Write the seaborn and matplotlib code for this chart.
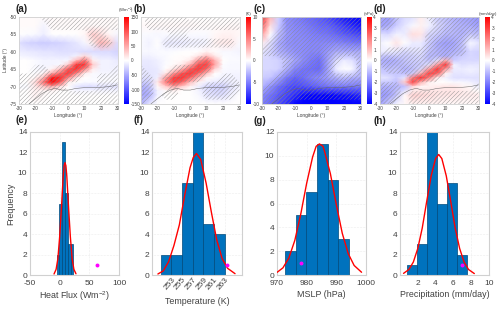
import pandas as pd
import seaborn as sns
import matplotlib
matplotlib.use('Agg')
import matplotlib.pyplot as plt

# ---- map values, columns from 30W to 30E, rows from 50S to 75S ----
lons = [-30, -25, -20, -15, -10, -5, 0, 5, 10, 15, 20, 25, 30]
lats = [-50, -52.5, -55, -57.5, -60, -62.5, -65, -67.5, -70, -72.5, -75]
# finer rows around the narrow warm band
fine_lats = [-50, -52.5, -55, -57.5, -60, -61.25, -62.5, -63.75, -65, -66.25, -67.5, -68.75, -70, -71.25, -72.5, -75]

heat_map = [
    [3, 3, 3, 3, 3, 3, 3, 3, 3, 3, 3, 3, 3],
    [3, 3, 3, -6, 3, 3, 3, 3, 3, 3, 3, 3, 3],
    [0, -2, -3, -10, 0, 0, 0, 0, 5, 30, 18, 5, -5],
    [-18, -25, -28, -30, -28, -25, -20, -15, -5, 10, 45, 30, -20],
    [-10, -12, -14, -16, -16, -18, -18, -18, -20, -20, -20, -20, -25],
    [-5, -8, -10, -12, -12, -14, -14, -8, 20, -10, -15, -15, -20],
    [0, 0, -3, -6, -6, -6, -5, 40, 80, 10, -8, -8, -12],
    [0, 0, -3, -6, -6, -4, 30, 120, 120, 30, -8, -8, -10],
    [0, 0, -3, -6, 5, 35, 100, 125, 70, 10, -8, -8, -8],
    [0, 0, -2, 5, 50, 90, 120, 70, 10, -3, -5, -5, -5],
    [0, 0, 5, 40, 140, 130, 70, 10, 0, -3, -3, -3, -3],
    [0, 0, 20, 85, 150, 100, 10, 0, -3, -3, -3, -3, -3],
    [-3, -3, 15, 35, 50, 20, 0, -15, -20, -20, -16, -16, -16],
    [0, 0, 8, 5, 5, 0, 0, -5, -5, -5, -5, -5, -5],
    [0, 0, 8, 3, 0, 0, 0, 0, 0, 0, 0, 0, 0],
    [0, 0, 0, 0, 0, 0, 0, 0, 0, 0, 0, 0, 0],
]
temp_map = [
    [0, 0, 0, 0, 0, 0, 0, 0, 0, 0, 0, 0, 0],
    [.3, .3, .3, .3, .3, .3, .3, .2, .2, .2, .2, .3, .3],
    [-.2, -.2, -.3, -.2, -.2, -.2, -.2, -.2, -.2, .3, .5, .5, .3],
    [-.2, -.5, 0, -.8, -.8, -.8, -.6, -.6, -.4, .5, .8, .8, -.2],
    [-.3, -.3, -.2, -.2, -.1, 0, 0, 0, .5, .1, -.3, -.3, -.4],
    [-.5, -.5, -.3, -.2, 0, .1, .1, 1, 2.5, .8, -.1, -.2, -.3],
    [-.8, -.8, -.6, -.2, .1, .2, .8, 4, 6, 3, 0, -.2, -.2],
    [-.9, -.9, -.7, -.1, .2, .8, 3, 7, 7.5, 3.5, -.1, -.3, -.3],
    [-1, -1, -.8, 0, 1, 3, 6.5, 8, 6, 1.5, -.2, -.3, -.3],
    [-1, -1, -.8, 1, 4, 7, 8, 6, 2.5, 0, -.3, -.4, -.4],
    [-1.2, -1.2, -.6, 3.5, 7.5, 8, 6, 2.5, .3, -.2, -.5, -.5, -.5],
    [-2, -1.8, .8, 5, 7.5, 6, 2.5, .5, -.5, -.8, -.9, -.6, -.4],
    [-3, -2.5, .3, 2, 3.5, 2, .5, -.6, -1.5, -1.8, -1.8, -1, -.5],
    [-3.3, -2.8, -.5, .2, .5, 0, 0, -.4, -1.2, -1.5, -1.5, -.8, -.2],
    [-3.5, -3, -.5, 0, 0, 0, 0, -.3, -1, -1.2, -1.2, -.5, 0],
    [-3, -1, 0, 0, 0, 0, 0, 0, 0, 0, 0, 0, 0],
]
mslp_map = [
    [3, 1.2, -.7, -1.8, -2, -2.2, -2.4, -2.6, -2.9, -3.3, -3.7, -3.9, -4],
    [2.5, .5, -.8, -1.7, -1.9, -2, -2.2, -2.4, -2.5, -2.8, -3.1, -3.4, -3.7],
    [1.5, 0, -1, -1.6, -1.8, -1.9, -2, -2.1, -2.2, -2.4, -2.6, -2.8, -3],
    [.3, -.5, -1.3, -1.7, -1.8, -1.8, -1.9, -1.9, -1.9, -1.9, -2, -2.1, -2.2],
    [-.4, -.7, -1.2, -1.5, -1.7, -1.8, -1.9, -1.9, -1.6, -1.3, -1.3, -1.3, -1.3],
    [-.6, -.6, -.7, -1, -1.4, -1.8, -2.1, -2.3, -1.5, -.6, -.3, -.5, -1],
    [-.6, -.6, -.7, -1.2, -1.9, -2.2, -2.3, -2.4, -1.5, -.3, 0, -.1, -1],
    [-.8, -.9, -1.4, -2.1, -2.5, -2.3, -2, -1.8, -1.5, -1.2, -1, -1.2, -1.3],
    [-1.2, -1.7, -2.3, -2.7, -2.9, -2.8, -2.6, -2.4, -2.2, -2.1, -2.1, -2.1, -2.1],
    [-1.8, -2.2, -2.6, -2.9, -3.3, -3.8, -4, -4, -4, -3.9, -3.8, -3.6, -3.4],
    [-2, -2.4, -2.8, -3.3, -3.9, -4, -4, -4, -4, -4, -4, -4, -4],
]
prec_map = [
    [-1.3, -1.6, -1, -.6, -.5, .3, -.3, -.8, -1, -1.2, -1.4, -1.5, -1.7],
    [-1.5, -1.3, -.8, -.4, -.1, .2, -.2, -.6, -.9, -1.1, -1.2, -1.3, -1.5],
    [-.5, -.6, -.2, -.3, .5, .4, -.6, -.8, -1.1, -1.1, -1.2, -.9, -1],
    [-.2, 0, .4, 0, -.3, -.3, -.8, -1.3, -1.5, -1.4, -1, -.1, -.4],
    [-.3, -.3, -.4, -.6, -.5, -.5, -1, -1.2, -1.3, -1.2, -1, -.6, -.7],
    [-.8, -.9, -.8, -.8, -.7, -.6, -1.1, -1.1, -1.3, -1, -.8, -.6, -.7],
    [-1.2, -1.3, -1.2, -.9, -.8, -.7, -1, -.5, 1.2, -.8, -.6, -.6, -.6],
    [-1.1, -1.2, -1.1, -1, -.9, -.8, -.5, 1.5, 3.2, -.2, -.5, -.4, -.4],
    [-.9, -1, -.9, -1.2, -1, -.6, 1.5, 3.2, 1.5, -.3, -.3, -.2, -.3],
    [-.7, -.8, -.9, -1, -.8, 1.2, 3, 2.5, .2, -.4, -.4, -.3, -.4],
    [-.4, -.5, -.8, -.4, 2, 3.3, 2, .2, -.2, -.5, -.5, -.5, -.5],
    [-.8, -.8, -1, .8, 3, 1.2, .2, 0, 0, -.1, -.1, -.2, -.4],
    [-1.2, -1.2, -1.1, -1, .6, .1, .2, .3, .4, .4, .2, .1, -.3],
    [-1.4, -1.4, -1, -.5, .3, .4, .4, .4, .4, .4, .3, .2, 0],
    [-1.6, -1.5, -.9, .1, .7, .6, .5, .4, .4, .4, .3, .3, .3],
    [-1.5, -.8, -.2, .1, .2, .2, .2, .2, .1, .1, .1, .1, .1],
]

# where the maps are hatched (1 = significant)
heat_sig = [
    [0, 0, 0, 1, 1, 1, 1, 1, 1, 1, 1, 1, 1],
    [0, 0, 0, 0, 1, 1, 1, 1, 1, 1, 1, 1, 1],
    [0, 0, 0, 0, 0, 0, 0, 0, 0, 1, 1, 0, 0],
    [0, 0, 0, 0, 0, 0, 0, 0, 0, 1, 1, 1, 0],
    [0, 0, 0, 0, 0, 0, 0, 0, 0, 0, 0, 0, 0],
    [0, 0, 0, 0, 0, 0, 0, 0, 1, 0, 0, 0, 0],
    [0, 0, 1, 1, 0, 1, 1, 1, 1, 0, 0, 0, 1],
    [1, 1, 1, 1, 1, 1, 1, 1, 0, 0, 1, 1, 1],
    [1, 1, 1, 1, 1, 1, 0, 0, 0, 0, 1, 1, 1],
    [1, 1, 1, 1, 1, 1, 1, 1, 1, 1, 1, 1, 1],
    [1, 1, 1, 1, 1, 1, 1, 1, 1, 1, 1, 1, 1],
]
temp_sig = [
    [0, 1, 1, 1, 1, 1, 0, 1, 1, 1, 1, 1, 1],
    [0, 1, 1, 1, 1, 1, 1, 1, 1, 1, 1, 1, 1],
    [0, 0, 0, 0, 1, 1, 0, 0, 0, 0, 0, 0, 0],
    [0, 0, 0, 1, 1, 1, 1, 1, 1, 1, 1, 1, 0],
    [0, 0, 0, 0, 0, 0, 0, 0, 0, 0, 0, 0, 0],
    [0, 0, 0, 0, 0, 0, 0, 1, 1, 0, 0, 0, 0],
    [1, 0, 0, 0, 1, 1, 1, 1, 1, 0, 0, 0, 0],
    [1, 1, 0, 1, 1, 1, 1, 1, 0, 0, 1, 1, 0],
    [1, 1, 0, 0, 1, 0, 0, 0, 1, 1, 1, 1, 1],
    [1, 1, 0, 1, 1, 0, 0, 0, 1, 1, 1, 1, 0],
    [1, 0, 0, 0, 0, 0, 0, 0, 0, 0, 0, 0, 0],
]
mslp_sig = [
    [1, 0, 0, 1, 1, 1, 1, 1, 1, 1, 1, 1, 1],
    [1, 0, 0, 1, 1, 1, 1, 1, 1, 1, 1, 1, 1],
    [0, 0, 1, 1, 1, 1, 1, 1, 1, 1, 1, 1, 1],
    [0, 1, 1, 1, 1, 1, 1, 1, 1, 1, 1, 1, 1],
    [1, 1, 1, 1, 1, 1, 1, 1, 1, 1, 1, 1, 1],
    [0, 0, 0, 1, 1, 1, 1, 1, 1, 1, 0, 0, 1],
    [0, 0, 0, 1, 1, 1, 1, 1, 1, 0, 0, 0, 1],
    [0, 0, 1, 1, 1, 1, 1, 1, 1, 1, 1, 1, 1],
    [0, 1, 1, 1, 1, 1, 1, 1, 1, 1, 1, 1, 1],
    [1, 1, 1, 1, 1, 1, 1, 1, 1, 1, 1, 1, 1],
    [1, 1, 1, 1, 0, 0, 0, 0, 0, 0, 0, 0, 0],
]
prec_sig = [
    [1, 1, 1, 0, 0, 0, 1, 1, 1, 1, 1, 1, 1],
    [1, 1, 0, 0, 0, 0, 0, 1, 1, 1, 1, 1, 1],
    [0, 0, 0, 0, 0, 0, 1, 1, 1, 1, 1, 1, 1],
    [0, 0, 0, 0, 0, 0, 1, 1, 1, 1, 1, 0, 0],
    [0, 1, 1, 1, 1, 1, 1, 1, 1, 1, 1, 0, 0],
    [1, 1, 1, 1, 1, 1, 1, 1, 1, 0, 0, 0, 0],
    [0, 1, 1, 1, 1, 1, 1, 1, 1, 0, 0, 0, 0],
    [0, 0, 0, 0, 1, 1, 1, 1, 0, 0, 0, 0, 0],
    [1, 1, 1, 0, 0, 0, 0, 0, 0, 0, 0, 0, 1],
    [1, 1, 1, 0, 1, 1, 1, 1, 1, 1, 1, 1, 1],
    [1, 1, 0, 0, 1, 1, 1, 1, 1, 1, 1, 1, 1],
]

coast_lon = [-24, -20, -16, -12, -8, -4, 0, 5, 10, 15, 20, 25, 30]
coast_lat = [-75, -73.5, -72, -71, -70.5, -71, -71, -70.5, -70.3, -70.3, -70.2, -70, -69.5]

# ---- histogram values ----
heat_edges = [-5, -.3, 4.4, 9.1, 13.8, 18.5, 23.2]
heat_counts = [2, 7, 13, 8, 3, 3]
heat_x = [-9.5, -6, -3, 0, 3, 6, 7.5, 9, 10.5, 12, 15, 18, 21, 24, 27.5]
heat_y = [.1, .55, 1.6, 3.75, 6.6, 9.7, 10.7, 11, 10.7, 9.7, 6.6, 3.75, 1.6, .55, .12]
heat_dot = 63.5

temp_edges = [251, 253, 255, 257, 259, 261, 263]
temp_counts = [2, 2, 9, 14, 5, 4]
temp_x = [250.5, 251.5, 252.5, 253.5, 254.5, 255.5, 256.5, 257.1, 257.7, 258.5, 259.5, 260.5, 261.5, 262.5, 263.5, 264.9]
temp_y = [.1, .4, 1.3, 2.9, 4.9, 7.8, 10.5, 11.5, 11.9, 11.3, 9, 6.1, 3.4, 1.6, .66, .13]
temp_dot = 263.4

mslp_edges = [972.8, 976.4, 979.9, 983.5, 987.1, 990.7, 994.3]
mslp_counts = [2, 5, 7, 11, 8, 3]
mslp_x = [970, 972, 974, 976, 978, 980, 982, 983.2, 984.3, 985.5, 986, 988, 990, 992, 994, 996, 998.5]
mslp_y = [.22, .6, 1.43, 2.9, 5.1, 7.7, 9.9, 10.8, 11, 10.8, 10.4, 8.5, 5.9, 3.5, 1.8, .8, .23]
mslp_dot = 978

prec_edges = [.84, 1.96, 3.08, 4.2, 5.3, 6.4, 7.5]
prec_counts = [1, 3, 14, 7, 9, 2]
prec_x = [.4, 1, 1.5, 2, 2.5, 3, 3.5, 4, 4.35, 4.7, 5.2, 5.7, 6.2, 6.7, 7.2, 7.7, 8.35]
prec_y = [.16, .54, 1.27, 2.6, 4.6, 7.2, 9.7, 11.4, 11.8, 11.4, 9.7, 7.2, 4.6, 2.6, 1.27, .54, .14]
prec_dot = 7

W, H = 500, 311
sns.set_theme(style='white')
plt.rcParams['font.family'] = ['Liberation Sans', 'DejaVu Sans']
plt.rcParams['mathtext.default'] = 'regular'
plt.rcParams['axes.unicode_minus'] = False
plt.rcParams['hatch.linewidth'] = 0.3
plt.rcParams['hatch.color'] = '#8a8a8a'

GREY = '#d0d0d0'
TXT = '#404040'
fig = plt.figure(figsize=(W / 100, H / 100), dpi=100, facecolor='white')
cmap = sns.blend_palette(['#0000ff', '#ffffff', '#ff0000'], n_colors=64, as_cmap=True)


def px_axes(left, right, top, bottom):
    return fig.add_axes([left / W, 1 - bottom / H, (right - left) / W, (bottom - top) / H])


def style_box(ax, lw=0.8):
    for s in ax.spines.values():
        s.set_visible(True)
        s.set_color(GREY)
        s.set_linewidth(lw)


def draw_map(left, values, row_lats, sig, vmax, cticks, unit, ylab=False):
    ax = px_axes(left, left + 98.5, 17, 104)
    im = ax.pcolormesh(lons, row_lats, values, cmap=cmap, vmin=-vmax, vmax=vmax, shading='gouraud')
    cs = ax.contourf(lons, lats, sig, levels=[0.5, 1.5], colors='none', hatches=['////////'])
    cs.set_edgecolor('#8a8a8a')
    cs.set_linewidth(0)
    sns.lineplot(x=coast_lon, y=coast_lat, color='#666666', lw=0.35, ax=ax, sort=False)
    ax.set_xlim(-30, 30)
    ax.set_ylim(-75, -50)
    ax.set_xticks([-30, -20, -10, 0, 10, 20, 30])
    ax.set_yticks([-50, -55, -60, -65, -70, -75])
    ax.grid(color='#bbbbbb', lw=0.2, ls=':')
    ax.tick_params(labelsize=3.4, colors=TXT, length=0, pad=1.5)
    ax.set_xlabel('Longitude (°)', fontsize=3.5, color=TXT, labelpad=1.5)
    if ylab:
        ax.set_ylabel('Latitude (°)', fontsize=3.5, color=TXT, labelpad=1)
    else:
        ax.set_yticklabels([])
    style_box(ax, 0.6)
    cax = px_axes(left + 105, left + 110, 17, 104)
    cb = fig.colorbar(im, cax=cax, ticks=cticks)
    cb.ax.tick_params(labelsize=3.4, colors=TXT, length=0, pad=1)
    cb.outline.set_linewidth(0)
    cax.text(0.5, 1.015, unit, transform=cax.transAxes, ha='center', va='bottom', fontsize=3.2, color=TXT)
    return ax


def draw_hist(left, right, edges, counts, cx, cy, dot, xlim, xticks, ymax, xlabel, rot=0, ylab=False):
    ax = px_axes(left, right, 132, 275)
    centers = [(edges[i] + edges[i + 1]) / 2 for i in range(len(counts))]
    df = pd.DataFrame({'x': centers, 'n': counts})
    sns.histplot(data=df, x='x', weights='n', bins=edges, color='#0072BD', edgecolor='#004a7c',
                 linewidth=0.5, alpha=1, ax=ax, zorder=2)
    sns.lineplot(x=cx, y=cy, color='#ff0000', lw=1.0, ax=ax, zorder=3)
    sns.scatterplot(x=[dot], y=[1], color='#ff00ff', s=8, linewidth=0, ax=ax, zorder=4)
    ax.set_xlim(*xlim)
    ax.set_ylim(0, ymax)
    ax.set_xticks(xticks)
    ax.set_yticks(range(0, ymax + 1, 2))
    ax.grid(color='#dddddd', lw=0.4, ls=':')
    ax.set_axisbelow(True)
    ax.tick_params(labelsize=6, colors=TXT, length=0, pad=2)
    ax.tick_params(axis='x', pad=3.5)
    pad = 2
    if rot:
        plt.setp(ax.get_xticklabels(), rotation=rot, ha='right', rotation_mode='anchor')
        ax.tick_params(axis='x', pad=1)
        pad = 4
    ax.set_xlabel(xlabel, fontsize=6.4, color=TXT, labelpad=pad)
    ax.set_ylabel('Frequency' if ylab else '', fontsize=6.4, color=TXT, labelpad=2)
    style_box(ax)
    return ax


draw_map(19, heat_map, fine_lats, heat_sig, 150, [-150, -100, -50, 0, 50, 100, 150], '(Wm$^{-2}$)', ylab=True)
draw_map(141, temp_map, fine_lats, temp_sig, 10, [-10, -5, 0, 5, 10], '(K)')
draw_map(262, mslp_map, lats, mslp_sig, 4, list(range(-4, 5)), '(hPa)')
draw_map(380, prec_map, fine_lats, prec_sig, 4, list(range(-4, 5)), '(mm/day)')

draw_hist(30, 119, heat_edges, heat_counts, heat_x, heat_y, heat_dot, (-50, 100),
          [-50, 0, 50, 100], 14, 'Heat Flux (Wm$^{-2}$)', ylab=True)
draw_hist(152, 242, temp_edges, temp_counts, temp_x, temp_y, temp_dot, (249.4, 266.2),
          [253, 255, 257, 259, 261, 263], 14, 'Temperature (K)', rot=50)
draw_hist(277, 366, mslp_edges, mslp_counts, mslp_x, mslp_y, mslp_dot, (970, 1000),
          [970, 980, 990, 1000], 12, 'MSLP (hPa)')
draw_hist(400, 489, prec_edges, prec_counts, prec_x, prec_y, prec_dot, (0, 10),
          [2, 4, 6, 8, 10], 14, 'Precipitation (mm/day)')

for lab, px, py in [('(a)', 15, 9), ('(b)', 134, 9), ('(c)', 253, 9), ('(d)', 374, 9),
                    ('(e)', 15, 120), ('(f)', 134, 120), ('(g)', 253, 121), ('(h)', 374, 121)]:
    fig.text(px / W, 1 - py / H, lab, fontsize=7, fontweight='bold', color='#222222', va='center')

fig.savefig('out.png', dpi=100)
